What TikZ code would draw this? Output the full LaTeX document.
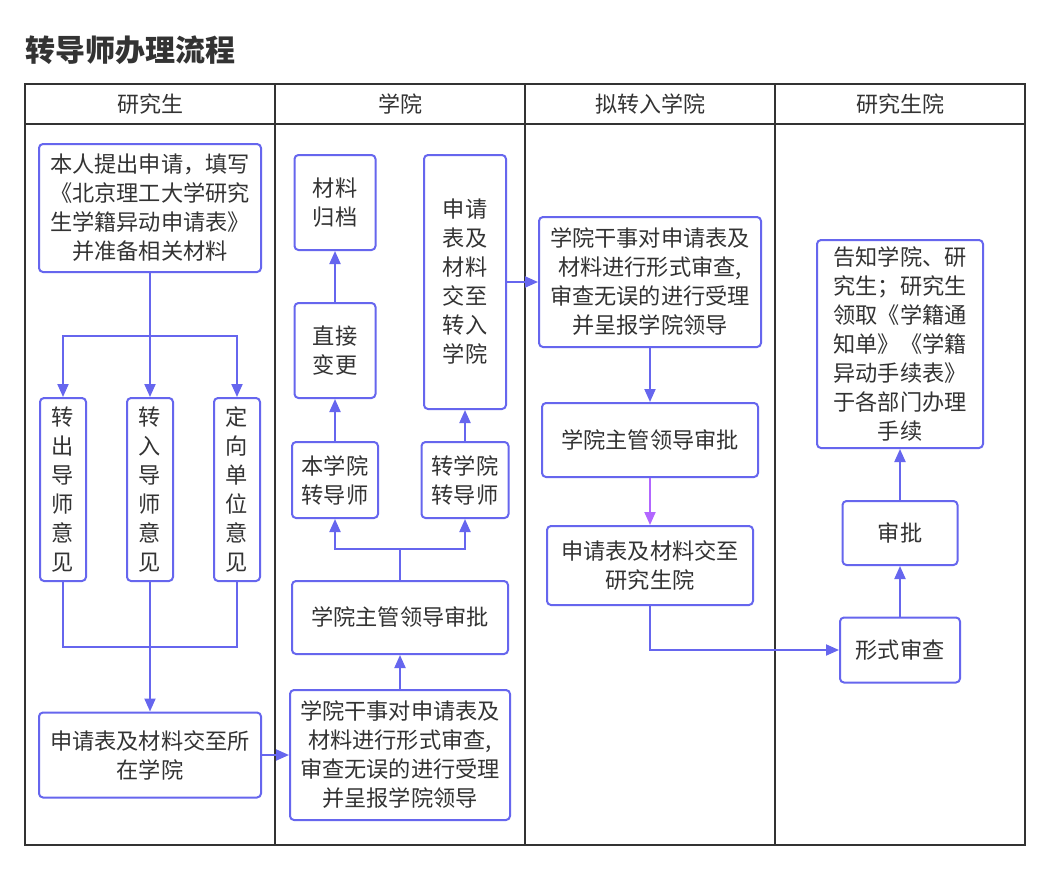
\documentclass[tikz,border=0pt]{standalone}
\usepackage{fontspec}
\setmainfont{Noto Sans CJK SC}
\usetikzlibrary{arrows.meta}
\definecolor{flow}{HTML}{6666EE}
\definecolor{pinkflow}{HTML}{B266FF}
\definecolor{txt}{HTML}{333333}
\definecolor{tbl}{HTML}{333333}
\tikzset{
  box/.style={draw=flow, line width=2pt, rounded corners=4pt, fill=white, text=txt,
    align=center, inner sep=0pt, font=\fontsize{22.2}{29}\selectfont},
  conn/.style={draw=flow, line width=2pt},
  arr/.style={conn, -{Triangle[length=13pt,width=11pt]}},
  parr/.style={draw=pinkflow, line width=2pt, -{Triangle[length=13pt,width=11pt]}},
  tblline/.style={draw=tbl, line width=2pt},
  hdr/.style={text=txt, font=\fontsize{22}{26}\selectfont},
}
\begin{document}
\begin{tikzpicture}[x=1pt,y=-1pt]
\useasboundingbox[fill=white] (0,0) rectangle (1050,870);
% title
\node[anchor=west, text=txt, font=\bfseries\fontsize{30}{34}\selectfont] (title) at (22,50) {转导师办理流程};
% table
\draw[tblline] (25,84) rectangle (1025,845);
\draw[tblline] (25,124) -- (1025,124);
\foreach \xx in {275,525,775} {\draw[tblline] (\xx,84) -- (\xx,845);}
\node[hdr] (h1) at (150,104) {研究生};
\node[hdr] (h2) at (400,104) {学院};
\node[hdr] (h3) at (650,104) {拟转入学院};
\node[hdr] (h4) at (900,104) {研究生院};

% column 1
\node[box, minimum width=222pt, minimum height=128pt] (A) at (150,208)
  {本人提出申请，填写\\《北京理工大学研究\\生学籍异动申请表》\\并准备相关材料};
\node[box, minimum width=46pt, minimum height=183pt] (B1) at (63,489.5) {转\\出\\导\\师\\意\\见};
\node[box, minimum width=46pt, minimum height=183pt] (B2) at (150,489.5) {转\\入\\导\\师\\意\\见};
\node[box, minimum width=46pt, minimum height=183pt] (B3) at (237,489.5) {定\\向\\单\\位\\意\\见};
\node[box, minimum width=222pt, minimum height=85pt] (C) at (150,755) {申请表及材料交至所\\在学院};

% column 2
\node[box, minimum width=220pt, minimum height=130pt] (D) at (400,755)
  {学院干事对申请表及\\材料进行形式审查,\\审查无误的进行受理\\并呈报学院领导};
\node[box, minimum width=216pt, minimum height=73pt] (E) at (400,617.5) {学院主管领导审批};
\node[box, minimum width=86pt, minimum height=76pt] (F1) at (335,480) {本学院\\转导师};
\node[box, minimum width=87pt, minimum height=76pt] (F2) at (465,480) {转学院\\转导师};
\node[box, minimum width=81pt, minimum height=95pt] (G1) at (335,350.5) {直接\\变更};
\node[box, minimum width=81pt, minimum height=95pt] (H1) at (335,202.5) {材料\\归档};
\node[box, minimum width=82pt, minimum height=254pt] (G2) at (465,282) {申请\\表及\\材料\\交至\\转入\\学院};

% column 3
\node[box, minimum width=222pt, minimum height=130pt] (I) at (650,282)
  {学院干事对申请表及\\材料进行形式审查,\\审查无误的进行受理\\并呈报学院领导};
\node[box, minimum width=216pt, minimum height=74pt] (J) at (650,440) {学院主管领导审批};
\node[box, minimum width=206pt, minimum height=79pt] (K) at (650,565.5) {申请表及材料交至\\研究生院};

% column 4
\node[box, minimum width=120pt, minimum height=65pt] (L) at (900,650) {形式审查};
\node[box, minimum width=115pt, minimum height=64pt] (M) at (900,533) {审批};
\node[box, minimum width=166pt, minimum height=208pt] (N) at (900,344)
  {告知学院、研\\究生；研究生\\领取《学籍通\\知单》《学籍\\异动手续表》\\于各部门办理\\手续};

% connectors column 1
\coordinate (splitA) at (150,336);
\coordinate (joinA) at (150,647);
\draw[arr] (A.south) -- (B2.north);
\draw[arr] (splitA) -| (B1.north);
\draw[arr] (splitA) -| (B3.north);
\draw[conn] (B1.south) |- (joinA);
\draw[conn] (B3.south) |- (joinA);
\draw[arr] (B2.south) -- (C.north);
\draw[arr] (C.east) -- (D.west);

% connectors column 2
\coordinate (splitE) at (400,549);
\draw[arr] (D.north) -- (E.south);
\draw[conn] (E.north) -- (splitE);
\draw[arr] (splitE) -| (F1.south);
\draw[arr] (splitE) -| (F2.south);
\draw[arr] (F1.north) -- (G1.south);
\draw[arr] (G1.north) -- (H1.south);
\draw[arr] (F2.north) -- (G2.south);
\draw[arr] (G2.east) -- (I.west);

% connectors column 3/4
\draw[arr] (I.south) -- (J.north);
\draw[parr] (J.south) -- (K.north);
\draw[arr] (K.south) |- (L.west);
\draw[arr] (L.north) -- (M.south);
\draw[arr] (M.north) -- (N.south);
\end{tikzpicture}
\end{document}
